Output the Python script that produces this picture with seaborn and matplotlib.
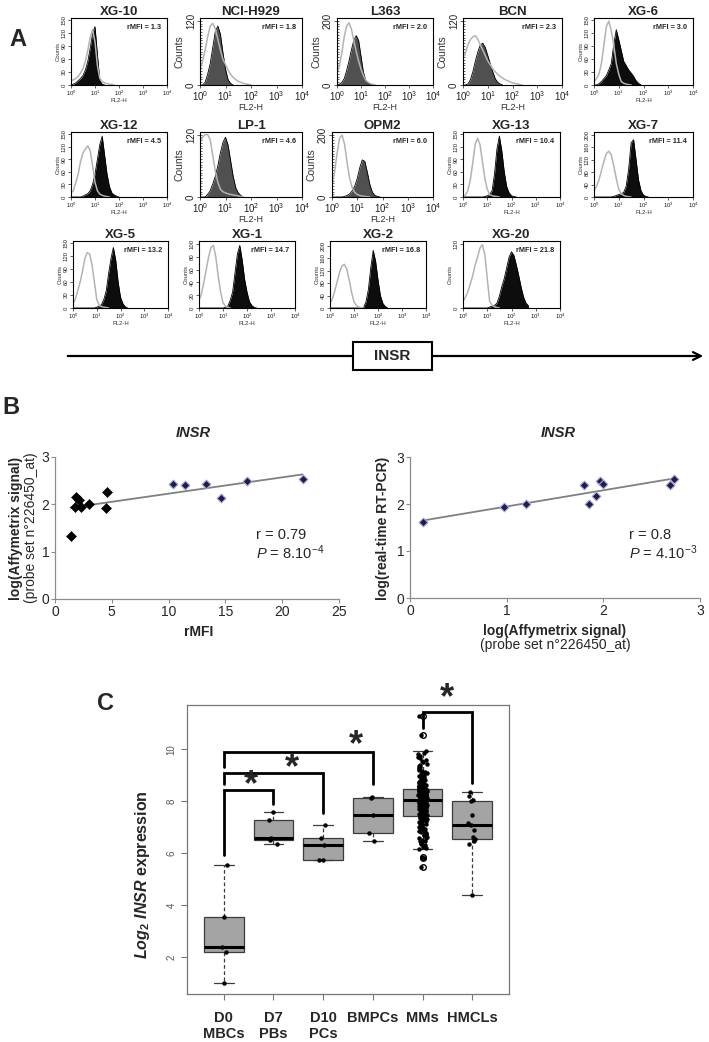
import numpy as np
import pandas as pd
import matplotlib.pyplot as plt
import seaborn as sns
from matplotlib.patches import Rectangle

sns.set_theme(style='white')
plt.rcParams['font.family'] = ['Liberation Sans', 'DejaVu Sans']
plt.rcParams['mathtext.fontset'] = 'custom'
plt.rcParams['mathtext.rm'] = 'Liberation Sans'
plt.rcParams['mathtext.it'] = 'Liberation Sans:italic'
plt.rcParams['mathtext.bf'] = 'Liberation Sans:bold'
plt.rcParams['mathtext.bfit'] = 'Liberation Sans:italic:bold'
np.random.seed(3)

# ---------------- panel A : FL2-H histograms (counts per 0.1 decade) ----------------
LOG_FL2 = [0.0, 0.1, 0.2, 0.3, 0.4, 0.5, 0.6, 0.7, 0.8, 0.9, 1.0, 1.1, 1.2, 1.3,
           1.4, 1.5, 1.6, 1.7, 1.8, 1.9, 2.0, 2.1, 2.2, 2.3, 2.4, 2.5, 2.6, 2.7]

XG10_CTRL = [10, 12, 15, 20, 28, 38, 55, 80, 110, 128, 100, 45, 15, 8, 5, 3, 2, 1, 0]
XG10_INSR = [0, 2, 5, 10, 15, 22, 35, 55, 85, 120, 135, 70, 10, 2, 0]
H929_CTRL = [30, 45, 65, 90, 110, 115, 105, 85, 65, 48, 38, 28, 20, 14, 10, 7, 5, 3, 2, 1, 0]
H929_INSR = [0, 0, 5, 20, 40, 70, 100, 110, 95, 60, 30, 10, 3, 0]
L363_CTRL = [40, 60, 100, 150, 185, 195, 175, 140, 105, 75, 50, 30, 15, 8, 4, 2, 0]
L363_INSR = [0, 2, 8, 20, 45, 75, 110, 140, 155, 140, 90, 40, 15, 5, 2, 0]
BCN_CTRL = [50, 60, 75, 85, 90, 92, 85, 75, 65, 55, 45, 38, 30, 25, 20, 16, 13, 10, 8, 6, 4, 3, 2, 1, 0]
BCN_INSR = [0, 0, 2, 10, 25, 45, 62, 75, 78, 70, 55, 40, 25, 12, 5, 2, 0]
XG6_CTRL = [8, 15, 25, 50, 92, 135, 148, 125, 92, 50, 25, 8, 4, 2, 1, 0]
XG6_INSR = [0, 0, 3, 8, 15, 22, 35, 50, 95, 128, 105, 80, 55, 45, 35, 28, 20, 10, 4, 0]
XG12_CTRL = [10, 15, 35, 55, 85, 105, 115, 122, 110, 75, 35, 15, 7, 4, 2, 1, 0]
XG12_INSR = [0, 0, 0, 0, 0, 2, 5, 8, 15, 30, 55, 90, 125, 145, 100, 55, 25, 10, 5, 2, 0]
LP1_CTRL = [105, 115, 120, 120, 110, 80, 50, 28, 15, 10, 8, 6, 5, 4, 3, 2, 1, 0]
LP1_INSR = [0, 0, 0, 5, 12, 25, 40, 60, 85, 105, 115, 100, 70, 40, 18, 8, 3, 0]
OPM2_CTRL = [40, 80, 140, 190, 200, 170, 110, 60, 30, 15, 8, 5, 3, 2, 1, 0]
OPM2_INSR = [0, 0, 0, 0, 0, 2, 5, 10, 20, 35, 60, 95, 120, 115, 80, 40, 15, 5, 2, 0]
XG13_CTRL = [0, 5, 15, 40, 80, 125, 140, 125, 85, 45, 18, 6, 3, 2, 1, 0]
XG13_INSR = [0, 0, 0, 0, 0, 0, 0, 0, 0, 1, 3, 6, 15, 55, 115, 145, 110, 60, 25, 10, 3, 1, 0]
XG7_CTRL = [20, 35, 55, 85, 115, 140, 148, 135, 100, 60, 25, 10, 5, 2, 1, 0]
XG7_INSR = [0, 0, 0, 0, 0, 0, 0, 0, 2, 5, 8, 10, 15, 35, 90, 175, 185, 120, 55, 20, 6, 2, 0]
XG5_CTRL = [10, 20, 40, 60, 85, 115, 128, 125, 100, 60, 20, 6, 3, 2, 1, 0]
XG5_INSR = [0, 0, 0, 0, 0, 0, 0, 0, 0, 0, 2, 4, 8, 20, 40, 80, 115, 140, 110, 60, 25, 10, 3, 0]
XG1_CTRL = [12, 22, 40, 60, 80, 95, 98, 80, 50, 25, 8, 3, 1, 0]
XG1_INSR = [0, 0, 0, 0, 0, 0, 0, 0, 0, 0, 0, 1, 3, 12, 25, 55, 85, 98, 75, 45, 25, 10, 4, 1, 0]
XG2_CTRL = [15, 30, 55, 85, 115, 135, 140, 125, 90, 50, 20, 8, 3, 1, 0]
XG2_INSR = [0, 0, 0, 0, 0, 0, 0, 0, 0, 0, 0, 0, 0, 0, 2, 20, 60, 130, 185, 150, 90, 40, 15, 5, 0]
XG20_CTRL = [12, 20, 30, 45, 60, 80, 95, 112, 118, 100, 55, 12, 5, 2, 1, 0]
XG20_INSR = [0, 0, 0, 0, 0, 0, 0, 0, 0, 0, 0, 2, 3, 5, 9, 22, 40, 55, 75, 95, 105, 98, 80, 60, 38, 20, 9, 4]

FLOW_NAMES = ['XG-10', 'NCI-H929', 'L363', 'BCN', 'XG-6',
              'XG-12', 'LP-1', 'OPM2', 'XG-13', 'XG-7',
              'XG-5', 'XG-1', 'XG-2', 'XG-20']
FLOW_RMFI = ['1.3', '1.8', '2.0', '2.3', '3.0', '4.5', '4.6', '6.0',
             '10.4', '11.4', '13.2', '14.7', '16.8', '21.8']
FLOW_CTRL = [XG10_CTRL, H929_CTRL, L363_CTRL, BCN_CTRL, XG6_CTRL, XG12_CTRL, LP1_CTRL,
             OPM2_CTRL, XG13_CTRL, XG7_CTRL, XG5_CTRL, XG1_CTRL, XG2_CTRL, XG20_CTRL]
FLOW_INSR = [XG10_INSR, H929_INSR, L363_INSR, BCN_INSR, XG6_INSR, XG12_INSR, LP1_INSR,
             OPM2_INSR, XG13_INSR, XG7_INSR, XG5_INSR, XG1_INSR, XG2_INSR, XG20_INSR]
FLOW_YMAX = [155, 125, 210, 125, 155, 155, 125, 210, 155, 210, 155, 105, 215, 125]
FLOW_YTICKS = [[0, 30, 60, 90, 120, 150], [0, 120], [0, 200], [0, 120], [0, 30, 60, 90, 120, 150],
               [0, 30, 60, 90, 120, 150], [0, 120], [0, 200], [0, 30, 60, 90, 120, 150],
               [0, 40, 80, 120, 160, 200], [0, 30, 60, 90, 120, 150], [0, 20, 40, 60, 80, 100],
               [0, 40, 80, 120, 160, 200], [0, 120]]
FLOW_BIG = [False, True, True, True, False, False, True, True, False, False,
            False, False, False, False]

# ---------------- panel B : correlations ----------------
RMFI_X = [1.38, 1.76, 1.85, 2.1, 2.3, 3.0, 4.6, 4.5, 10.4, 11.4, 13.25, 14.6, 16.86, 21.8]
AFFY_Y = [1.33, 1.95, 2.16, 2.1, 1.95, 2.0, 2.26, 1.93, 2.44, 2.40, 2.44, 2.14, 2.49, 2.53]
RMFI_GROUP = ['low'] * 8 + ['high'] * 6
AFFY_X = [0.138, 0.976, 1.2, 1.8, 1.85, 1.92, 1.97, 2.0, 2.69, 2.73]
PCR_Y = [1.61, 1.93, 2.01, 2.41, 1.99, 2.16, 2.50, 2.43, 2.40, 2.54]

# ---------------- panel C : Log2 INSR expression ----------------
C_GROUPS = ['D0\nMBCs', 'D7\nPBs', 'D10\nPCs', 'BMPCs', 'MMs', 'HMCLs']
D0_MBC = [1.0, 2.2, 2.38, 3.55, 5.55]
D7_PB = [6.35, 6.5, 6.58, 7.28, 7.6]
D10_PC = [5.75, 5.75, 6.31, 6.58, 7.1]
BMPC = [6.46, 6.77, 7.46, 8.13, 8.17]
MM = [5.46, 5.82, 5.85, 6.15, 6.22, 6.30, 6.38, 6.45, 6.52, 6.58, 6.63, 6.68, 6.72, 6.77, 6.81,
      6.86, 6.90, 6.95, 6.99, 7.03, 7.08, 7.12, 7.16, 7.20, 7.24, 7.28, 7.32, 7.35, 7.38, 7.41,
      7.43, 7.46, 7.49, 7.52, 7.55, 7.58, 7.60, 7.62, 7.65, 7.67, 7.70, 7.72, 7.74, 7.76, 7.78,
      7.80, 7.82, 7.84, 7.86, 7.88, 7.90, 7.92, 7.93, 7.95, 7.96, 7.98, 7.99, 8.01, 8.02, 8.03,
      8.05, 8.06, 8.08, 8.09, 8.11, 8.12, 8.14, 8.15, 8.17, 8.18, 8.20, 8.21, 8.23, 8.24, 8.26,
      8.27, 8.29, 8.30, 8.32, 8.33, 8.35, 8.36, 8.37, 8.39, 8.40, 8.41, 8.42, 8.43, 8.44, 8.45,
      8.47, 8.50, 8.53, 8.56, 8.59, 8.62, 8.65, 8.68, 8.71, 8.74, 8.78, 8.82, 8.86, 8.90, 8.95,
      9.00, 9.10, 9.16, 9.22, 9.28, 9.35, 9.42, 9.50, 9.58, 9.66, 9.75, 9.85, 9.92, 10.54, 11.27,
      6.18, 6.35, 6.48, 6.60, 6.70, 6.75, 6.83, 6.88, 6.93, 7.00, 7.05, 7.10, 7.14, 7.18, 7.22,
      7.26, 7.30, 7.33, 7.37, 7.40, 7.44, 7.47, 7.50, 7.53, 7.57, 7.61, 7.64, 7.68, 7.71, 7.75,
      7.79, 7.83, 7.85, 7.87, 7.89, 7.91, 7.94, 7.97, 8.00, 8.02, 8.04, 8.07, 8.10, 8.13, 8.16,
      8.19, 8.22, 8.25, 8.28, 8.31, 8.34, 8.36, 8.38, 8.40, 8.41, 8.42, 8.43, 8.44, 8.45, 8.46,
      8.48, 8.52, 8.55, 8.60, 8.64, 8.69, 8.73, 8.77, 8.81, 8.85, 8.92, 8.98, 9.04, 9.12, 9.20,
      9.30, 9.40, 9.55, 9.70, 9.80]
HMCL = [4.38, 6.35, 6.45, 6.54, 6.62, 6.9, 7.08, 7.15, 7.46, 8.0, 8.05, 8.2, 8.35]
# (left group, right group, bar height, left leg end, right leg end, star x, star y)
BRACKETS = [(0, 1, 8.42, 5.92, 7.90, 0.55, 8.75),
            (0, 2, 9.07, 8.67, 7.55, 1.38, 9.42),
            (0, 3, 9.88, 9.33, 8.65, 2.66, 10.27),
            (4, 5, 11.43, 10.8, 8.70, 4.50, 12.1)]

W, H = 709, 1042
fig = plt.figure(figsize=(W / 100, H / 100), dpi=100)


def px_axes(l, t, r, b):
    return fig.add_axes([l / W, 1 - b / H, (r - l) / W, (b - t) / H])


ov = px_axes(0, 0, W, H)
ov.set_xlim(0, W)
ov.set_ylim(H, 0)
ov.axis('off')

for lbl, (x, y) in zip('ABC', [(18, 40), (11, 407), (105, 704)]):
    ov.text(x, y, lbl, fontsize=17, fontweight='bold', ha='center', va='center')

# ---- A ----
FLOW_BOXES = [(71, 18, 167, 85), (200, 18, 302, 85), (337, 18, 433, 85), (463, 18, 562, 85),
              (594, 18, 693, 85), (71, 132, 167, 197), (200, 132, 302, 197), (332, 132, 433, 197),
              (463, 132, 560, 197), (594, 132, 693, 197), (73, 241, 168, 308), (199, 241, 295, 308),
              (330, 241, 426, 308), (463, 241, 560, 308)]

for i, box in enumerate(FLOW_BOXES):
    ax = px_axes(*box)
    big = FLOW_BIG[i]
    ins = FLOW_INSR[i]
    ctl = FLOW_CTRL[i]
    xi = 10 ** np.array(LOG_FL2[:len(ins)])
    xc = 10 ** np.array(LOG_FL2[:len(ctl)])
    ax.set_xscale('log')
    ax.fill_between(xi, ins, color='#505050' if big else '#0d0d0d', lw=0)
    ax.plot(xi, ins, color='black', lw=0.6)
    sns.lineplot(x=xc, y=ctl, ax=ax, color='#b3b3b3', lw=1.1)
    ax.set_xlim(1, 1e4)
    ax.set_ylim(0, FLOW_YMAX[i])
    ax.set_xticks([1, 10, 100, 1000, 10000])
    ax.set_yticks(FLOW_YTICKS[i])
    fs = 7 if big else 4.3
    ax.tick_params(axis='both', which='major', labelsize=fs, length=2, width=0.5,
                   pad=1, colors='#222222', left=True, bottom=True)
    ax.tick_params(axis='y', labelrotation=90)
    for t in ax.get_yticklabels():
        t.set_va('center')
    if big:
        ax.yaxis.set_minor_locator(plt.MultipleLocator(FLOW_YMAX[i] / 24))
        ax.tick_params(axis='both', which='minor', direction='in', length=1.6,
                       width=0.5, left=True, bottom=True)
    else:
        ax.tick_params(axis='x', which='minor', bottom=False)
    ax.set_xlabel('FL2-H', fontsize=6.5 if big else 4.3, labelpad=0, color='#333333')
    ax.set_ylabel('Counts', fontsize=7.5 if big else 4.3, labelpad=1, color='#333333')
    for s in ax.spines.values():
        s.set_linewidth(0.8)
        s.set_color('black')
    ax.set_title(FLOW_NAMES[i], fontsize=9.5, fontweight='bold', pad=2)
    ax.text(0.94, 0.86, f'rMFI = {FLOW_RMFI[i]}', transform=ax.transAxes, ha='right',
            va='center', fontsize=5.3, fontweight='bold')

ov.annotate('', xy=(706, 356), xytext=(65, 356),
            arrowprops=dict(arrowstyle='->', lw=1.6, color='black', mutation_scale=14))
ov.add_patch(Rectangle((353, 342), 79, 28, fc='white', ec='black', lw=1.5, zorder=3))
ov.text(392.5, 356.5, 'INSR', fontsize=11, fontweight='bold', ha='center', va='center', zorder=4)

# ---- B ----
ax_l = px_axes(55, 457, 339, 599)
ax_r = px_axes(410, 457, 700, 598)

grp = np.array(RMFI_GROUP)
rx = np.array(RMFI_X)
ry = np.array(AFFY_Y)
sns.regplot(x=rx, y=ry, ax=ax_l, scatter=False, ci=None, truncate=True,
            line_kws=dict(color='#808080', lw=1.3))
sns.scatterplot(x=rx[grp == 'low'], y=ry[grp == 'low'], ax=ax_l, marker='D', s=26,
                color='black', edgecolor='black', zorder=3)
sns.scatterplot(x=rx[grp == 'high'], y=ry[grp == 'high'], ax=ax_l, marker='D', s=20,
                color='#1d1d4f', edgecolor='#a8a8d8', linewidth=0.8, zorder=3)

sns.regplot(x=AFFY_X, y=PCR_Y, ax=ax_r, scatter=False, ci=None, truncate=True,
            line_kws=dict(color='#808080', lw=1.3))
sns.scatterplot(x=AFFY_X, y=PCR_Y, ax=ax_r, marker='D', s=20,
                color='#1d1d4f', edgecolor='#a8a8d8', linewidth=0.8, zorder=3)

for ax, xmax, xt in [(ax_l, 25, [0, 5, 10, 15, 20, 25]), (ax_r, 3, [0, 1, 2, 3])]:
    ax.set_xlim(0, xmax)
    ax.set_ylim(0, 3)
    ax.set_xticks(xt)
    ax.set_yticks([0, 1, 2, 3])
    ax.tick_params(labelsize=10, length=3, width=0.8, color='#8c8c8c', pad=1,
                   left=True, bottom=True)
    for s in ['top', 'right']:
        ax.spines[s].set_visible(False)
    for s in ['left', 'bottom']:
        ax.spines[s].set_color('#8c8c8c')
        ax.spines[s].set_linewidth(0.9)
    ax.set_xlabel('')
    ax.set_ylabel('')

ax_l.text(17.7, 1.35, 'r = 0.79', fontsize=10.5, va='center')
ax_l.text(17.7, 0.97, r'$P$ = 8.10$^{-4}$', fontsize=10.5, va='center')
ax_r.text(2.27, 1.33, 'r = 0.8', fontsize=10.5, va='center')
ax_r.text(2.27, 0.97, r'$P$ = 4.10$^{-3}$', fontsize=10.5, va='center')

ov.text(193, 433, 'INSR', fontsize=10.5, fontweight='bold', style='italic', ha='center', va='center')
ov.text(558, 433, 'INSR', fontsize=10.5, fontweight='bold', style='italic', ha='center', va='center')
ov.text(16, 528, 'log(Affymetrix signal)', fontsize=10, fontweight='bold', rotation=90,
        ha='center', va='center')
ov.text(31, 528, '(probe set n°226450_at)', fontsize=10, rotation=90, ha='center', va='center')
ov.text(199, 632, 'rMFI', fontsize=10, fontweight='bold', ha='center', va='center')
ov.text(383, 528, 'log(real-time RT-PCR)', fontsize=10, fontweight='bold', rotation=90,
        ha='center', va='center')
ov.text(555, 631, 'log(Affymetrix signal)', fontsize=10, fontweight='bold', ha='center', va='center')
ov.text(555, 645, '(probe set n°226450_at)', fontsize=10, ha='center', va='center')

# ---- C ----
axc = px_axes(187, 705, 509, 994)
vals = [D0_MBC, D7_PB, D10_PC, BMPC, MM, HMCL]
df = pd.DataFrame({'group': np.repeat(C_GROUPS, [len(v) for v in vals]),
                   'expr': np.concatenate(vals)})
sns.boxplot(data=df, x='group', y='expr', order=C_GROUPS, ax=axc, color='#a4a4a4',
            saturation=1, width=0.8, linecolor='#3c3c3c', linewidth=0.9, whis=1.5,
            medianprops=dict(color='black', linewidth=2.2),
            whiskerprops=dict(linestyle=(0, (3, 2)), color='#3c3c3c'),
            capprops=dict(color='#3c3c3c'),
            flierprops=dict(marker='o', markerfacecolor='white', markeredgecolor='black',
                            markersize=4))
sns.stripplot(data=df, x='group', y='expr', order=C_GROUPS, ax=axc, color='black', size=3.2,
              jitter=0.09)

for (a, b, top, lend, rend, sx, sy) in BRACKETS:
    axc.plot([a, a, b, b], [lend, top, top, rend], color='black', lw=2, clip_on=False,
             solid_joinstyle='miter')
    axc.text(sx, sy, '*', fontsize=26, fontweight='bold', ha='center', va='center_baseline',
             clip_on=False)

axc.set_xlim(-0.74, 5.74)
axc.set_ylim(0.58, 11.7)
axc.set_yticks([2, 4, 6, 8, 10])
axc.tick_params(axis='y', labelsize=7, labelcolor='#555555', labelrotation=90, length=4,
                width=0.8, color='#777777', left=True)
for t in axc.get_yticklabels():
    t.set_va('center')
axc.tick_params(axis='x', labelsize=10.5, length=4, width=0.8, color='#777777', bottom=True,
                pad=8)
for t in axc.get_xticklabels():
    t.set_fontweight('bold')
for s in axc.spines.values():
    s.set_color('#777777')
    s.set_linewidth(0.9)
axc.set_xlabel('')
axc.set_ylabel('')
ov.text(142, 875, r'$\mathbfit{Log}_{\mathbf{2}}$ $\mathbfit{INSR}$ expression', fontsize=11.5,
        fontweight='bold', rotation=90, ha='center', va='center')

fig.savefig('out.png', dpi=100)
